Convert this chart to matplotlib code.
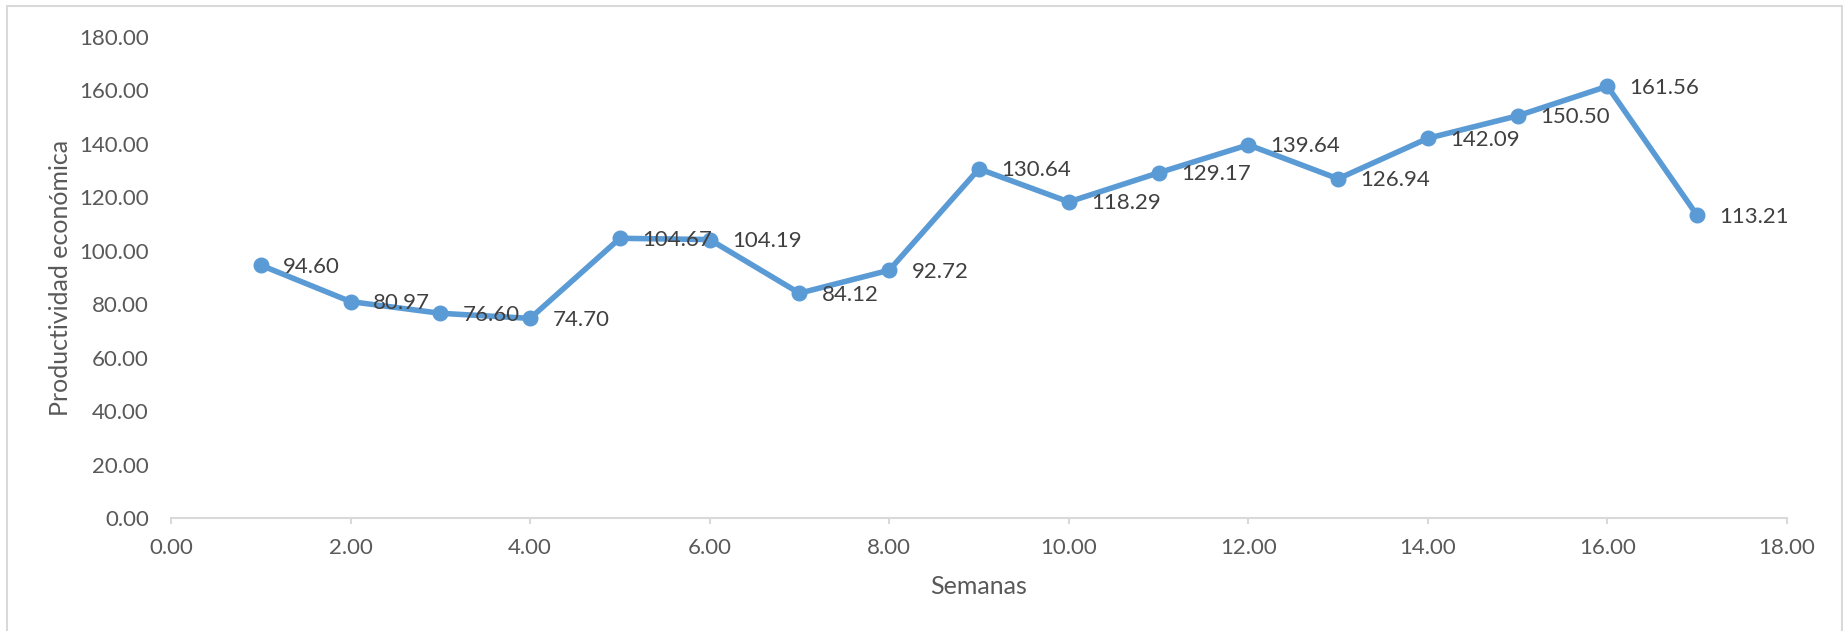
import matplotlib.pyplot as plt
from matplotlib.patches import Rectangle

# weekly economic productivity
semanas = [1, 2, 3, 4, 5, 6, 7, 8, 9, 10, 11, 12, 13, 14, 15, 16, 17]
productividad = [94.60, 80.97, 76.60, 74.70, 104.67, 104.19, 84.12, 92.72, 130.64,
                 118.29, 129.17, 139.64, 126.94, 142.09, 150.50, 161.56, 113.21]
x_ticks = [0, 2, 4, 6, 8, 10, 12, 14, 16, 18]
y_ticks = [0, 20, 40, 60, 80, 100, 120, 140, 160, 180]

plt.rcParams['font.family'] = ['Lato', 'DejaVu Sans']
azul = '#5B9BD5'
gris_txt = '#595959'

fig = plt.figure(figsize=(18.43, 6.31), dpi=100)
ax = fig.add_axes([0.0928, 0.1791, 0.8768, 0.7623])

# outer chart frame
fig.patches.append(Rectangle((7 / 1843, -0.01), 1835 / 1843, 1 - 6 / 631 + 0.01,
                             transform=fig.transFigure, fill=False,
                             edgecolor='#D9D9D9', linewidth=1.5))

ax.plot(semanas, productividad, color=azul, linewidth=4, marker='o',
        markersize=10.5, zorder=3)

for x, y in zip(semanas, productividad):
    ax.annotate('{:.2f}'.format(y), (x, y), xytext=(16, -1), textcoords='offset points',
                ha='left', va='center', fontsize=16, color='#404040')

ax.set_xlim(0, 18)
ax.set_ylim(0, 180)
ax.set_xticks(x_ticks)
ax.set_yticks(y_ticks)
ax.set_xticklabels(['{:.2f}'.format(v) for v in x_ticks])
ax.set_yticklabels(['{:.2f}'.format(v) for v in y_ticks])

for s in ['top', 'right', 'left']:
    ax.spines[s].set_visible(False)
ax.spines['bottom'].set_color('#D9D9D9')
ax.spines['bottom'].set_linewidth(1.5)
ax.spines['bottom'].set_zorder(1)

ax.tick_params(axis='x', colors='#D9D9D9', length=4.5, width=1.5, labelcolor=gris_txt,
               labelsize=16, pad=10)
ax.tick_params(axis='y', length=0, labelcolor=gris_txt, labelsize=16, pad=16)

ax.set_xlabel('Semanas', fontsize=18, color=gris_txt, labelpad=12)
ax.set_ylabel('Productividad económica', fontsize=18, color=gris_txt, labelpad=5)

fig.savefig('out.png', dpi=100)
